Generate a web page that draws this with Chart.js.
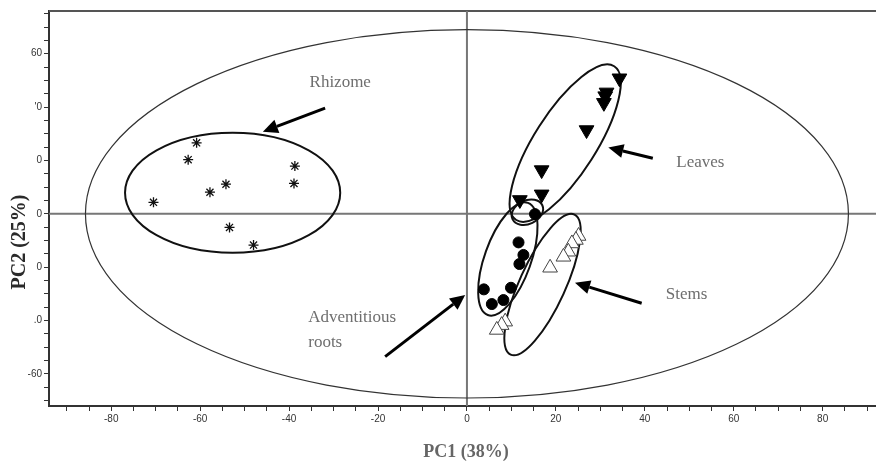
<!DOCTYPE html>
<html>
<head>
<meta charset="utf-8">
<script src="https://cdn.jsdelivr.net/npm/chart.js@4/dist/chart.umd.min.js"></script>
<style>
  html, body { margin: 0; padding: 0; background: #fff; overflow: hidden; }
  #wrap { width: 876px; height: 465px; position: relative; }
  #pcaChart { display: block; }
</style>
</head>
<body>
<div id="wrap"><canvas id="pcaChart"></canvas></div>
<script>
// PCA scores (PC1 = x, PC2 = y)
const rhizomeX = [-60.8, -62.7, -70.5, -57.8, -54.2, -38.7, -38.9, -53.4, -48.0];
const rhizomeY = [26.6, 20.3, 4.3, 8.1, 11.1, 17.9, 11.4, -5.1, -11.7];

const leavesX = [34.3, 31.4, 31.1, 30.8, 26.9, 16.8, 16.8, 11.9];
const leavesY = [50.8, 45.5, 44.1, 41.6, 31.4, 16.4, 7.3, 5.2];

const rootsX = [15.3, 11.6, 12.7, 11.8, 9.9, 3.8, 5.6, 8.2];
const rootsY = [-0.1, -10.7, -15.4, -18.8, -27.7, -28.3, -33.8, -32.3];

const stemsX = [25.1, 24.5, 23.6, 22.8, 21.7, 18.7, 8.6, 7.8, 6.7];
const stemsY = [-8.3, -9.8, -11.1, -14.2, -16.1, -20.2, -40.4, -41.7, -43.5];

// tick labels as printed on the figure
const xTickValues = [-80, -60, -40, -20, 0, 20, 40, 60, 80];
const xTickText = ['-80', '-60', '-40', '-20', '0', '20', '40', '60', '80'];
const yTickValues = [60, 40, 20, 0, -20, -40, -60];
const yTickText = ['60', "'0", '0', '0', '0', '.0', '-60'];

const groupNames = ['Rhizome', 'Leaves', 'Adventitious roots', 'Stems'];

function toPoints(xs, ys) {
    return xs.map((v, i) => ({ x: v, y: ys[i] }));
}

// confidence ellipses (centre in data units, radii in axis units, rotation on screen)
const ellipses = [
    { cx: 0, cy: 0, rx: 85.8, ry: 69, rot: 0, w: 1.2, c: '#333' },
    { cx: -52.7, cy: 7.9, rx: 24.2, ry: 22.5, rot: 0, w: 2, c: '#111' },
    { cx: 22.1, cy: 26.5, rx: 20.5, ry: 11.6, rot: -57.5, w: 2, c: '#111' },
    { cx: 9.2, cy: -16.9, rx: 13.4, ry: 8.7, rot: -70.3, w: 2, c: '#111' },
    { cx: 13.6, cy: 0.6, rx: 3.7, ry: 4.4, rot: -25, w: 2, c: '#111' },
    { cx: 17.0, cy: -26.5, rx: 17.3, ry: 8.6, rot: -65.5, w: 2, c: '#111' }
];

// labels and arrows, in data units
const notes = [
    { text: 'Rhizome', x: -28.5, y: 49.2, align: 'center' },
    { text: 'Leaves', x: 52.5, y: 19.1, align: 'center' },
    { text: 'Stems', x: 49.4, y: -30.4, align: 'center' },
    { text: 'Adventitious', x: -35.7, y: -38.7, align: 'left' },
    { text: 'roots', x: -35.7, y: -48.4, align: 'left' }
];
const arrows = [
    { x1: -31.9, y1: 39.6, x2: -45.9, y2: 30.8 },
    { x1: 41.8, y1: 20.8, x2: 31.8, y2: 24.9 },
    { x1: 39.3, y1: -33.5, x2: 24.3, y2: -25.8 },
    { x1: -18.4, y1: -53.5, x2: -0.4, y2: -30.4 }
];

function tickText(values, texts, v) {
    const i = values.indexOf(v);
    return i >= 0 ? texts[i] : '';
}

function drawArrow(ctx, x1, y1, x2, y2) {
    const ang = Math.atan2(y2 - y1, x2 - x1);
    const headLen = 15, headW = 7;
    const bx = x2 - headLen * Math.cos(ang), by = y2 - headLen * Math.sin(ang);
    ctx.beginPath();
    ctx.moveTo(x1, y1);
    ctx.lineTo(bx, by);
    ctx.lineWidth = 3;
    ctx.strokeStyle = '#000';
    ctx.stroke();
    ctx.beginPath();
    ctx.moveTo(x2, y2);
    ctx.lineTo(bx + headW * Math.sin(ang), by - headW * Math.cos(ang));
    ctx.lineTo(bx - headW * Math.sin(ang), by + headW * Math.cos(ang));
    ctx.closePath();
    ctx.fillStyle = '#000';
    ctx.fill();
}

const overlay = {
    id: 'overlay',
    beforeDatasetsDraw(chart) {
        const { ctx, chartArea: a, scales: { x, y } } = chart;
        ctx.save();
        // top frame line
        ctx.strokeStyle = '#555';
        ctx.lineWidth = 2;
        ctx.beginPath();
        ctx.moveTo(a.left, a.top);
        ctx.lineTo(a.right, a.top);
        ctx.stroke();
        // zero lines
        const x0 = x.getPixelForValue(0), y0 = y.getPixelForValue(0);
        ctx.strokeStyle = '#777';
        ctx.lineWidth = 2;
        ctx.beginPath();
        ctx.moveTo(x0, a.top); ctx.lineTo(x0, a.bottom);
        ctx.moveTo(a.left, y0); ctx.lineTo(a.right, y0);
        ctx.stroke();
        // ellipses
        const sx = Math.abs(x.getPixelForValue(1) - x0);
        const sy = Math.abs(y.getPixelForValue(1) - y0);
        ellipses.forEach(e => {
            ctx.beginPath();
            ctx.ellipse(x.getPixelForValue(e.cx), y.getPixelForValue(e.cy),
                e.rx * sx, e.ry * sy, e.rot * Math.PI / 180, 0, Math.PI * 2);
            ctx.lineWidth = e.w;
            ctx.strokeStyle = e.c;
            ctx.stroke();
        });
        ctx.restore();
    },
    afterDatasetsDraw(chart) {
        const { ctx, scales: { x, y } } = chart;
        ctx.save();
        arrows.forEach(ar => drawArrow(ctx,
            x.getPixelForValue(ar.x1), y.getPixelForValue(ar.y1),
            x.getPixelForValue(ar.x2), y.getPixelForValue(ar.y2)));
        ctx.font = '17px "Liberation Serif", "Times New Roman", serif';
        ctx.fillStyle = '#6e6e6e';
        ctx.textBaseline = 'middle';
        notes.forEach(n => {
            ctx.textAlign = n.align;
            ctx.fillText(n.text, x.getPixelForValue(n.x), y.getPixelForValue(n.y));
        });
        ctx.restore();
    },
    afterDraw(chart) {
        const { ctx } = chart;
        ctx.save();
        // axis titles
        ctx.textAlign = 'center';
        ctx.textBaseline = 'middle';
        ctx.font = 'bold 18px "Liberation Serif", "Times New Roman", serif';
        ctx.fillStyle = '#666';
        ctx.fillText('PC1 (38%)', 466, 452);
        ctx.translate(20, 242);
        ctx.rotate(-Math.PI / 2);
        ctx.font = 'bold 20px "Liberation Serif", "Times New Roman", serif';
        ctx.fillStyle = '#2a2a2a';
        ctx.fillText('PC2 (25%)', 0, 0);
        ctx.restore();
    }
};

const tickFont = { family: '"Liberation Sans Narrow", "Liberation Sans", Arial, sans-serif', size: 10 };

new Chart(document.getElementById('pcaChart'), {
    type: 'scatter',
    data: {
        datasets: [
            {
                label: groupNames[0],
                data: toPoints(rhizomeX, rhizomeY),
                pointStyle: 'star',
                pointRadius: 5,
                borderColor: '#111',
                backgroundColor: '#111',
                borderWidth: 1.3
            },
            {
                label: groupNames[1],
                data: toPoints(leavesX, leavesY),
                pointStyle: 'triangle',
                rotation: 180,
                pointRadius: 8.5,
                borderColor: '#000',
                backgroundColor: '#000',
                borderWidth: 1
            },
            {
                label: groupNames[2],
                data: toPoints(rootsX, rootsY),
                pointStyle: 'circle',
                pointRadius: 5.5,
                borderColor: '#000',
                backgroundColor: '#000',
                borderWidth: 1
            },
            {
                label: groupNames[3],
                data: toPoints(stemsX, stemsY),
                pointStyle: 'triangle',
                pointRadius: 8.5,
                borderColor: '#444',
                backgroundColor: '#fff',
                borderWidth: 1
            }
        ]
    },
    options: {
        responsive: true,
        maintainAspectRatio: false,
        animation: false,
        events: [],
        layout: { autoPadding: false, padding: { left: 28, top: 11, right: 0, bottom: 0 } },
        scales: {
            x: {
                type: 'linear',
                min: -94,
                max: 92,
                afterFit: (scale) => {
                    scale.height = 59;
                    scale.paddingLeft = 0;
                    scale.paddingRight = 0;
                },
                border: { display: true, color: '#333', width: 2 },
                grid: { drawOnChartArea: false, drawTicks: true, tickLength: 5, color: '#333' },
                ticks: {
                    stepSize: 5,
                    includeBounds: false,
                    autoSkip: false,
                    maxRotation: 0,
                    padding: 2,
                    color: '#333',
                    font: tickFont,
                    callback: (v) => tickText(xTickValues, xTickText, v)
                }
            },
            y: {
                type: 'linear',
                min: -72,
                max: 76,
                afterFit: (scale) => {
                    scale.width = 21;
                    scale.paddingTop = 0;
                    scale.paddingBottom = 0;
                },
                border: { display: true, color: '#333', width: 2 },
                grid: { drawOnChartArea: false, drawTicks: true, tickLength: 5, color: '#333' },
                ticks: {
                    stepSize: 5,
                    includeBounds: false,
                    autoSkip: false,
                    padding: 2,
                    color: '#333',
                    font: tickFont,
                    callback: (v) => tickText(yTickValues, yTickText, v)
                }
            }
        },
        plugins: {
            legend: { display: false },
            tooltip: { enabled: false }
        }
    },
    plugins: [overlay]
});
</script>
</body>
</html>
